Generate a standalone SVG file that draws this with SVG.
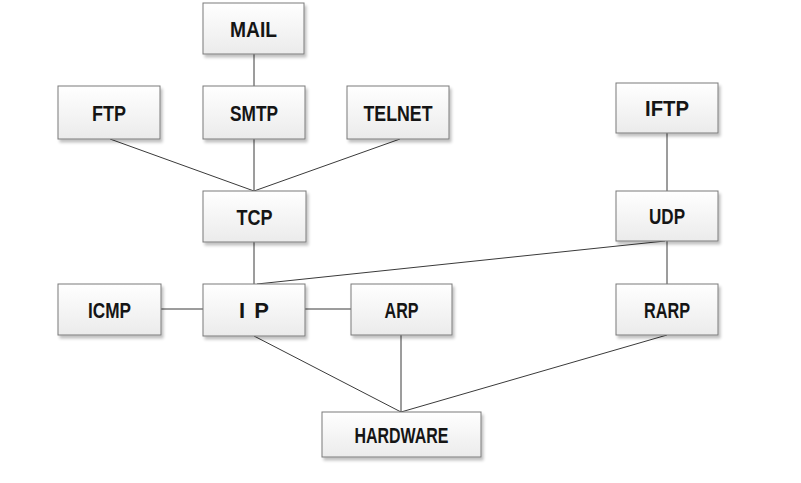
<svg xmlns="http://www.w3.org/2000/svg" width="801" height="483" viewBox="0 0 801 483">
<defs>
<linearGradient id="g" x1="0" y1="0" x2="0" y2="1">
<stop offset="0" stop-color="#ffffff"/>
<stop offset="1" stop-color="#ebebeb"/>
</linearGradient>
<filter id="sh" x="-10%" y="-10%" width="130%" height="140%">
<feGaussianBlur in="SourceAlpha" stdDeviation="1.5"/>
<feOffset dx="2" dy="3" result="b"/>
<feComponentTransfer><feFuncA type="linear" slope="0.25"/></feComponentTransfer>
<feMerge><feMergeNode/><feMergeNode in="SourceGraphic"/></feMerge>
</filter>
</defs>
<style>
.box{fill:url(#g);stroke:#7a7a7a;stroke-width:1;filter:url(#sh)}
.lbl{font-family:"Liberation Sans",Arial,sans-serif;font-weight:bold;font-size:22px;fill:#151515;text-anchor:middle}
.ln{stroke:#3a3a3a;stroke-width:1;fill:none}
</style>
<rect width="801" height="483" fill="#fff"/>
<g id="connectors">
<line class="ln" x1="254" y1="54" x2="254" y2="86"/>
<line class="ln" x1="110" y1="139" x2="254" y2="191"/>
<line class="ln" x1="254" y1="139" x2="254" y2="191"/>
<line class="ln" x1="400" y1="139" x2="254" y2="191"/>
<line class="ln" x1="254" y1="242" x2="254" y2="284"/>
<line class="ln" x1="665" y1="241" x2="257" y2="284"/>
<line class="ln" x1="667" y1="133" x2="667" y2="191"/>
<line class="ln" x1="667" y1="241" x2="667" y2="284"/>
<line class="ln" x1="161" y1="309" x2="203" y2="309"/>
<line class="ln" x1="305" y1="309" x2="351" y2="309"/>
<line class="ln" x1="254" y1="336" x2="401" y2="412"/>
<line class="ln" x1="401" y1="335" x2="401" y2="412"/>
<line class="ln" x1="667" y1="335" x2="401" y2="412"/>
</g>
<g id="MAIL"><rect class="box" x="203" y="3" width="101" height="51"/><text class="lbl" x="253.5" y="36.5" textLength="47" lengthAdjust="spacingAndGlyphs">MAIL</text></g>
<g id="FTP"><rect class="box" x="58" y="86" width="102" height="53"/><text class="lbl" x="109" y="120.5" textLength="34" lengthAdjust="spacingAndGlyphs">FTP</text></g>
<g id="SMTP"><rect class="box" x="203" y="86" width="102" height="53"/><text class="lbl" x="254" y="120.5" textLength="48" lengthAdjust="spacingAndGlyphs">SMTP</text></g>
<g id="TELNET"><rect class="box" x="347" y="86" width="102" height="53"/><text class="lbl" x="398" y="120.5" textLength="69" lengthAdjust="spacingAndGlyphs">TELNET</text></g>
<g id="IFTP"><rect class="box" x="616" y="83" width="102" height="50"/><text class="lbl" x="667" y="116" textLength="44" lengthAdjust="spacingAndGlyphs">IFTP</text></g>
<g id="TCP"><rect class="box" x="203" y="191" width="103" height="51"/><text class="lbl" x="254.5" y="224.5" textLength="36" lengthAdjust="spacingAndGlyphs">TCP</text></g>
<g id="UDP"><rect class="box" x="616" y="191" width="102" height="50"/><text class="lbl" x="667" y="224" textLength="36" lengthAdjust="spacingAndGlyphs">UDP</text></g>
<g id="ICMP"><rect class="box" x="58" y="284" width="103" height="51"/><text class="lbl" x="109.5" y="317.5" textLength="43" lengthAdjust="spacingAndGlyphs">ICMP</text></g>
<g id="IP"><rect class="box" x="203" y="284" width="102" height="52"/><text class="lbl" x="254" y="318" textLength="30" lengthAdjust="spacing">IP</text></g>
<g id="ARP"><rect class="box" x="351" y="284" width="101" height="51"/><text class="lbl" x="401.5" y="317.5" textLength="34" lengthAdjust="spacingAndGlyphs">ARP</text></g>
<g id="RARP"><rect class="box" x="616" y="284" width="102" height="51"/><text class="lbl" x="667" y="317.5" textLength="46" lengthAdjust="spacingAndGlyphs">RARP</text></g>
<g id="HARDWARE"><rect class="box" x="322" y="412" width="159" height="45"/><text class="lbl" x="401.5" y="442.5" textLength="94" lengthAdjust="spacingAndGlyphs">HARDWARE</text></g>
</svg>
